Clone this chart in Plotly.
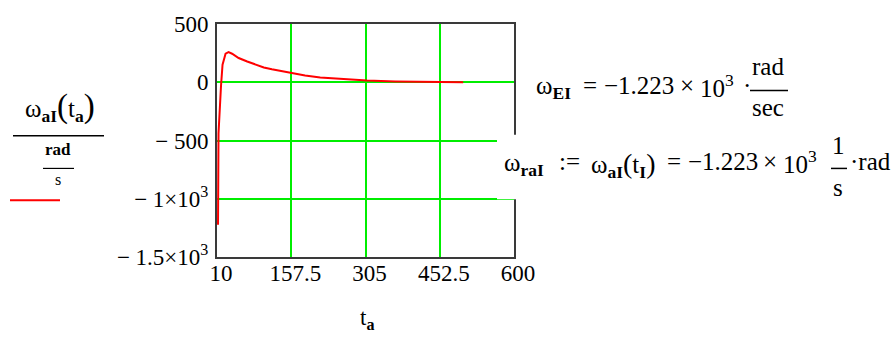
import plotly.graph_objects as go

# angular velocity omega_aI(t_a), in rad/s, sampled over t_a
t_a = [12, 13, 18, 21, 27, 33, 40, 53, 70, 86, 103, 119, 136, 158, 185, 215, 261, 308, 364, 420, 499]
omega_aI = [-1223, -440, -28, 150, 245, 258, 245, 208, 178, 153, 127, 112, 97, 80, 58, 40, 24, 14, 7, 3, 0]

x_ticks = [10, 157.5, 305, 452.5, 600]
x_tick_text = ["10", "157.5", "305", "452.5", "600"]
y_ticks = [-1500, -1000, -500, 0, 500]
y_tick_text = ["− 1.5×10<sup>3</sup>", "− 1×10<sup>3</sup>", "− 500", "0", "500"]

W, H = 895, 343
L, R, T, B = 217, 514, 15, 257
FONT = "Liberation Serif"
GRID = "#00ee00"
FRAME = "#3a3a3a"
DY = -5  # annotation boxes sit slightly low relative to the glyph centre
RES = 25  # font size of the evaluated results


def paper(x, y):
    """Convert page pixel position to paper coordinates."""
    return (x - L) / (R - L), (B - y) / (B - T)


fig = go.Figure()
fig.add_trace(go.Scatter(
    x=t_a, y=omega_aI, mode="lines",
    line=dict(color="#ff0000", width=2),
    showlegend=False, hoverinfo="skip",
))

annotations = []
shapes = []


def text(x, y, s, size=23, xanchor="left"):
    px_, py_ = paper(x, y + DY)
    annotations.append(dict(
        x=px_, y=py_, xref="paper", yref="paper", text=s, showarrow=False,
        xanchor=xanchor, yanchor="middle", borderpad=0,
        font=dict(family=FONT, size=size, color="black"),
    ))


def hline(x0, x1, y, color="black", width=1.5):
    a0, b0 = paper(x0, y)
    a1, _ = paper(x1, y)
    shapes.append(dict(type="line", xref="paper", yref="paper",
                       x0=a0, x1=a1, y0=b0, y1=b0, layer="above",
                       line=dict(color=color, width=width)))


def paren(c, size=30):
    return f'<span style="font-size:{size}px">{c}</span>'


# white backing behind the second result line (covers frame and grid)
m0x, m0y = paper(497, 130)
m1x, m1y = paper(W, 197)
shapes.append(dict(type="rect", xref="paper", yref="paper",
                   x0=m0x, x1=m1x, y0=m1y, y1=m0y, layer="above",
                   fillcolor="white", line=dict(width=0)))

# y-axis label: omega_aI(t_a) / (rad/s)
text(60, 106, "ω<sub><b>aI</b></sub>" + paren("(", 33) + "t<sub><b>a</b></sub>" + paren(")", 33),
     size=25, xanchor="center")
hline(13, 104, 131)
text(58, 150, "<b>rad</b>", size=17, xanchor="center")
hline(43, 74, 165, width=1.2)
text(58, 181, "s", size=16, xanchor="center")
hline(10, 60, 198, color="#ff0000", width=2)

# x-axis label
text(367, 326, "t<sub><b>a</b></sub>", size=23, xanchor="center")

# evaluated results, first line
text(535, 86, "ω<sub><b>EI</b></sub>", size=RES)
text(590, 84, "=", size=RES, xanchor="center")
text(603, 84, "−1.223", size=RES)
text(687, 84, "×", size=RES, xanchor="center")
text(699, 84, "10<sup>3</sup>", size=RES)
text(747, 84, "·", size=RES, xanchor="center")
text(768, 64, "rad", size=RES, xanchor="center")
hline(750, 788, 84)
text(768, 107, "sec", size=RES, xanchor="center")

# evaluated results, second line
text(503, 166, "ω<sub><b>raI</b></sub>", size=RES)
text(569, 163, ":=", size=RES, xanchor="center")
text(590, 166, "ω<sub><b>aI</b></sub>" + paren("(", 28) + "t<sub><b>I</b></sub>" + paren(")", 28), size=RES)
text(674, 163, "=", size=RES, xanchor="center")
text(687, 163, "−1.223", size=RES)
text(770, 163, "×", size=RES, xanchor="center")
text(782, 163, "10<sup>3</sup>", size=RES)
text(838, 146, "1", size=RES, xanchor="center")
hline(831, 847, 165)
text(838, 190, "s", size=RES, xanchor="center")
text(849, 163, "·rad", size=RES)

fig.update_layout(
    width=W, height=H,
    margin=dict(l=L, r=W - R, t=T, b=H - B, pad=0),
    paper_bgcolor="white", plot_bgcolor="white",
    font=dict(family=FONT, size=23, color="black"),
    showlegend=False,
    annotations=annotations,
    shapes=shapes,
    xaxis=dict(
        range=[10, 600], tickvals=x_ticks, ticktext=x_tick_text,
        showgrid=True, gridcolor=GRID, gridwidth=2, zeroline=False,
        showline=True, linecolor=FRAME, linewidth=2, mirror=True,
        ticks="", ticklabelshift=4, ticklabelstandoff=-6,
    ),
    yaxis=dict(
        range=[-1500, 500], tickvals=y_ticks, ticktext=y_tick_text,
        showgrid=True, gridcolor=GRID, gridwidth=2, zeroline=False,
        showline=True, linecolor=FRAME, linewidth=2, mirror=True,
        ticks="", ticklabelstandoff=2,
    ),
)

fig.write_html("out.html")
